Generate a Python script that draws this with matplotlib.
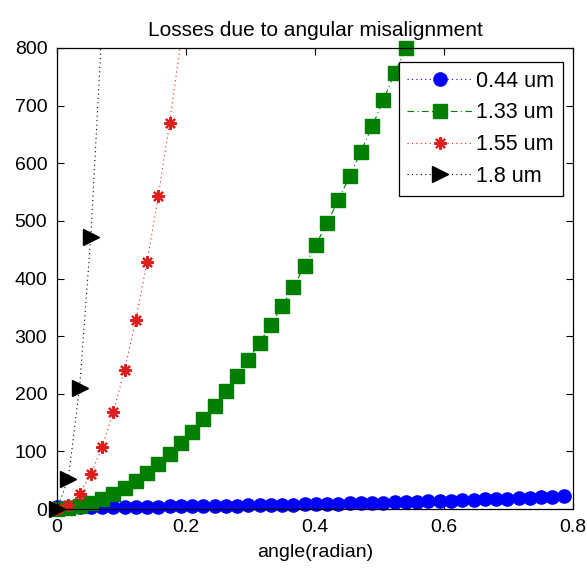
import matplotlib
matplotlib.use("Agg")
import matplotlib.pyplot as plt
from matplotlib.lines import Line2D
import numpy as np

plt.rcParams['font.family'] = ['Liberation Sans', 'DejaVu Sans']

# angle in radians (1 degree steps, 0..45 deg)
angle = [0.0, 0.01745, 0.03491, 0.05236, 0.06981, 0.08727, 0.10472, 0.12217,
         0.13963, 0.15708, 0.17453, 0.19199, 0.20944, 0.22689, 0.24435, 0.26180,
         0.27925, 0.29671, 0.31416, 0.33161, 0.34907, 0.36652, 0.38397, 0.40143,
         0.41888, 0.43633, 0.45379, 0.47124, 0.48869, 0.50615, 0.52360, 0.54105,
         0.55851, 0.57596, 0.59341, 0.61087, 0.62832, 0.64577, 0.66323, 0.68068,
         0.69813, 0.71558, 0.73304, 0.75049, 0.76794, 0.78540]

loss_044 = [3.5, 3.5, 3.5, 3.6, 3.6, 3.7, 3.8, 3.9, 4.1, 4.2, 4.4, 4.6, 4.8, 5.0,
            5.3, 5.6, 5.8, 6.1, 6.5, 6.8, 7.2, 7.5, 7.9, 8.3, 8.8, 9.2, 9.7, 10.2,
            10.7, 11.2, 11.7, 12.3, 12.9, 13.5, 14.1, 14.7, 15.3, 16.0, 16.7, 17.4,
            18.1, 18.9, 19.6, 20.4, 21.2, 22.0]

loss_133 = [0.0, 1.2, 4.6, 9.8, 16.9, 25.7, 36.3, 48.5, 62.4, 78.0, 95.1, 113.9,
            134.2, 156.1, 179.5, 204.6, 231.0, 259.1, 288.7, 319.6, 352.2, 386.1,
            421.6, 458.5, 496.7, 536.4, 577.6, 620.3, 664.3, 710.0, 756.9, 800.0,
            855.0]

loss_155 = [0.0, 6.7, 26.8, 60.3, 107.2, 167.6, 241.3, 328.4, 428.9, 542.8, 670.2,
            811.0]

loss_180 = [0.0, 52.4, 209.6, 471.5, 838.0]

labels = ['0.44 um', '1.33 um', '1.55 um', '1.8 um']
x_ticks = [0, 0.2, 0.4, 0.6, 0.8]
y_ticks = [0, 100, 200, 300, 400, 500, 600, 700, 800]

W, H = 587, 571
fig = plt.figure(figsize=(W / 100, H / 100), dpi=100)
ax = fig.add_axes([57 / W, 1 - 509 / H, 516 / W, 461 / H])

ymax = 800
series = [
    (loss_044, dict(color='#0000ff', linestyle=':', marker='o', markersize=9.5)),
    (loss_133, dict(color='#007f00', linestyle='-.', marker='s', markersize=9.5)),
    (loss_155, dict(color='#dd1f1f', linestyle=':', marker=(8, 2, 0), markersize=9,
                    markeredgewidth=1.6)),
    (loss_180, dict(color='#000000', linestyle=':', marker='>', markersize=11)),
]

handles = []
for (vals, st), lab in zip(series, labels):
    xs = np.array(angle[:len(vals)])
    ys = np.array(vals)
    ls = st['linestyle']
    dashes = (1, 3) if ls == ':' else (6, 3, 1, 3)
    ax.plot(xs, ys, color=st['color'], linestyle=ls, dashes=dashes, linewidth=0.8,
            clip_on=True)
    m = ys <= ymax
    mk = {k: v for k, v in st.items() if k not in ('linestyle', 'color')}
    ax.plot(xs[m], ys[m], linestyle='none', color=st['color'],
            markerfacecolor=st['color'], markeredgecolor=st['color'],
            clip_on=False, **mk)
    handles.append(Line2D([], [], color=st['color'], linestyle=ls, dashes=dashes,
                          linewidth=0.8, markerfacecolor=st['color'],
                          markeredgecolor=st['color'], **mk))

ax.set_xlim(0, 0.8)
ax.set_ylim(0, 800)
ax.set_xticks(x_ticks)
ax.set_xticklabels(['0', '0.2', '0.4', '0.6', '0.8'])
ax.set_yticks(y_ticks)
ax.tick_params(direction='in', length=5, width=0.8, top=True, right=True,
               labelsize=14, pad=7)
for s in ax.spines.values():
    s.set_linewidth(0.9)

ax.set_title('Losses due to angular misalignment', fontsize=15, pad=9)
ax.set_xlabel('angle(radian)', fontsize=14, labelpad=6)

leg = ax.legend(handles, labels, loc='upper right',
                bbox_to_anchor=((563 - 57) / 516, (509 - 62) / 461),
                borderaxespad=0, fontsize=15.5, fancybox=False, framealpha=1,
                edgecolor='black', numpoints=1, handlelength=3.0,
                handletextpad=0.2, labelspacing=0.5, borderpad=0.4)
leg.get_frame().set_linewidth(0.9)

fig.savefig('out.png', dpi=100)
